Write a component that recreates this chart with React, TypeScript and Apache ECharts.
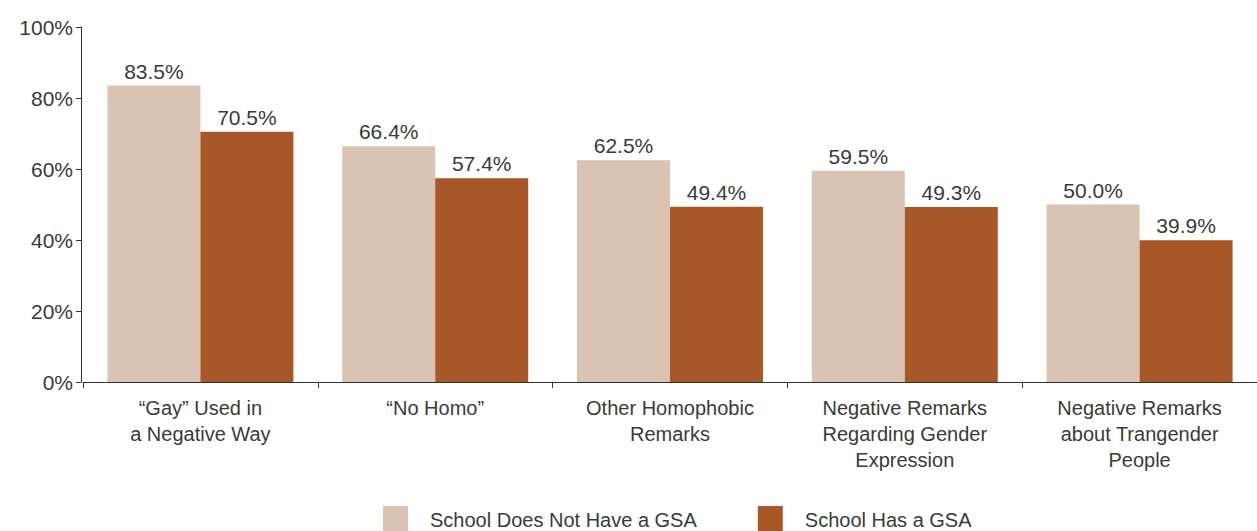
import React, { useEffect, useRef } from "react";
import * as echarts from "echarts";

const categories = [
  "“Gay” Used in\na Negative Way",
  "“No Homo”",
  "Other Homophobic\nRemarks",
  "Negative Remarks\nRegarding Gender\nExpression",
  "Negative Remarks\nabout Trangender\nPeople",
];
const noGsa = [83.5, 66.4, 62.5, 59.5, 50.0];
const hasGsa = [70.5, 57.4, 49.4, 49.3, 39.9];
const seriesNames = ["School Does Not Have a GSA", "School Has a GSA"];
const yTicks = [0, 20, 40, 60, 80, 100];

const FONT = "'Liberation Sans', Arial, sans-serif";
const TEXT = "#3a3a3a";

export default function App() {
  const ref = useRef<HTMLDivElement>(null);
  useEffect(() => {
    if (!ref.current) return;
    const chart = echarts.init(ref.current, null, { renderer: "svg" });
    const label = {
      show: true,
      position: "top",
      distance: 4,
      fontFamily: FONT,
      fontSize: 21,
      color: TEXT,
      formatter: (p: any) => p.value.toFixed(1) + "%",
    };
    chart.setOption({
      animation: false,
      textStyle: { fontFamily: FONT },
      grid: { left: 83, top: 27, width: 1174, height: 355, containLabel: false },
      legend: {
        bottom: -7,
        left: 378,
        itemWidth: 25,
        itemHeight: 27,
        itemGap: 61,
        textStyle: { fontFamily: FONT, fontSize: 20, color: TEXT, padding: [0, 0, 0, 17] },
        data: seriesNames,
        icon: "rect",
      },
      xAxis: {
        type: "category",
        data: categories,
        axisLine: { lineStyle: { color: "#333", width: 1 } },
        axisTick: { show: true, length: 6, alignWithLabel: false, lineStyle: { color: "#333" } },
        axisLabel: {
          fontFamily: FONT,
          fontSize: 20,
          color: TEXT,
          lineHeight: 26,
          margin: 13,
          interval: 0,
        },
      },
      yAxis: {
        type: "value",
        min: yTicks[0],
        max: yTicks[yTicks.length - 1],
        interval: 20,
        offset: 2,
        splitLine: { show: false },
        axisLine: { show: true, lineStyle: { color: "#333", width: 1 } },
        axisTick: { show: true, length: 5, lineStyle: { color: "#333" } },
        axisLabel: {
          fontFamily: FONT,
          fontSize: 21,
          color: TEXT,
          margin: 8,
          formatter: (v: number) => v + "%",
        },
      },
      series: [
        {
          name: seriesNames[0],
          type: "bar",
          data: noGsa,
          barWidth: 93,
          barGap: "0%",
          itemStyle: { color: "#dbc3b3" },
          label,
        },
        {
          name: seriesNames[1],
          type: "bar",
          data: hasGsa,
          barWidth: 93,
          barGap: "0%",
          itemStyle: { color: "#a85828" },
          label,
        },
      ],
    });
    return () => chart.dispose();
  }, []);
  return (
    <div
      ref={ref}
      style={{ position: "absolute", left: 0, top: 0, width: 1257, height: 531, background: "#fff" }}
    />
  );
}
